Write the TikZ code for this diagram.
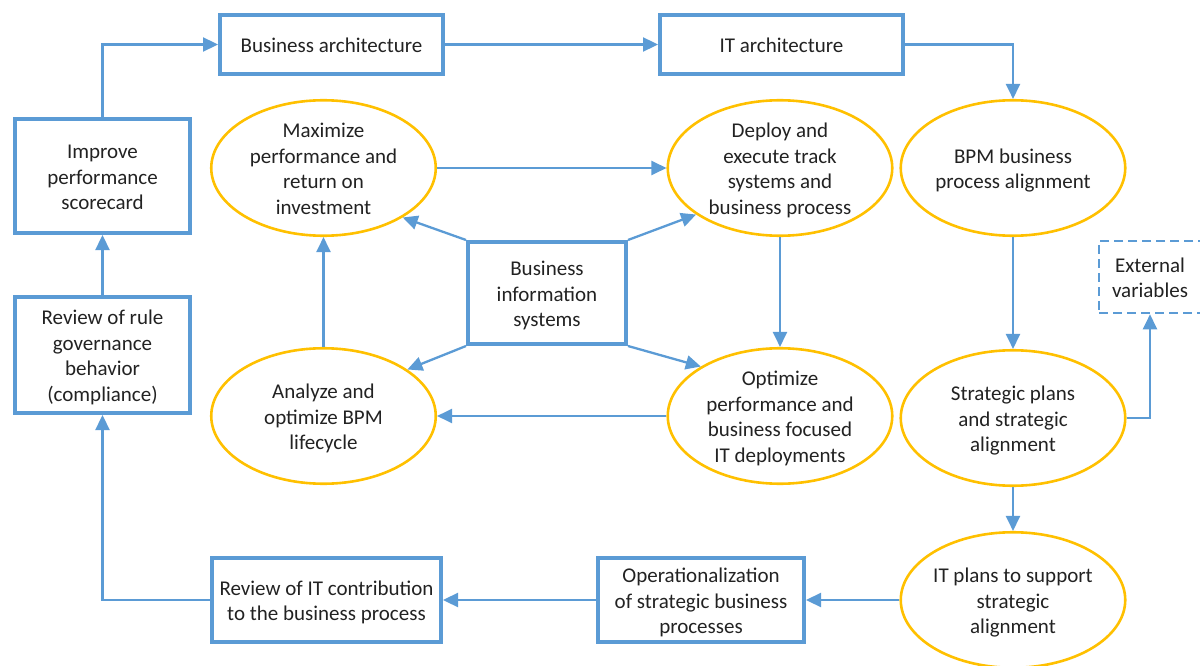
\documentclass[tikz,border=0pt]{standalone}
\usepackage{fontspec}
\setmainfont{Carlito}
\usetikzlibrary{arrows.meta,shapes.geometric}
\definecolor{lblue}{HTML}{5B9BD5}
\definecolor{gold}{HTML}{FFC000}
\definecolor{txt}{HTML}{222222}
\newcommand{\mlines}[1]{\raisebox{0pt}[\dimexpr\height+6pt\relax][\depth]{\begin{tabular}{@{}c@{}}#1\end{tabular}}}
\tikzset{
  boxnode/.style={draw=lblue, line width=4pt, rectangle, inner sep=0pt, text=txt,
    font=\fontsize{21}{25.4}\selectfont},
  ellnode/.style={draw=gold, line width=2.6pt, ellipse, inner sep=-14pt, text=txt,
    minimum width=224.5pt, minimum height=135.5pt, font=\fontsize{21}{25.4}\selectfont},
  conn/.style={draw=lblue, line width=2.3pt, -{Triangle[length=15pt,width=14pt]}}
}
\begin{document}
\begin{tikzpicture}[x=1pt,y=-1pt]
\useasboundingbox (0,0) rectangle (1200,666);
% boxes
\node[boxnode, minimum width=223pt, minimum height=59pt] (ba) at (331.5,44.5) {\mlines{Business architecture}};
\node[boxnode, minimum width=243pt, minimum height=59pt] (it) at (781.5,44.5) {\mlines{IT architecture}};
\node[boxnode, minimum width=175pt, minimum height=114pt] (imp) at (102.5,176) {\mlines{Improve\\performance\\scorecard}};
\node[boxnode, minimum width=175pt, minimum height=116pt] (rev) at (102.5,355) {\mlines{Review of rule\\governance\\behavior\\(compliance)}};
\node[boxnode, minimum width=229pt, minimum height=84pt] (revit) at (326.5,600) {\mlines{Review of IT contribution\\to the business process}};
\node[boxnode, minimum width=206pt, minimum height=84pt] (oper) at (701,600) {\mlines{Operationalization\\of strategic business\\processes}};
\node[boxnode, minimum width=158pt, minimum height=102pt] (bis) at (547,293) {\mlines{Business\\information\\systems}};
\node[boxnode, line width=2.6pt, dashed, dash pattern=on 9pt off 5pt, minimum width=102pt, minimum height=72pt] (ext) at (1150,277) {\mlines{External\\variables}};
% ellipses
\node[ellnode] (max) at (323.5,168) {\mlines{Maximize\\performance and\\return on\\investment}};
\node[ellnode] (dep) at (780,168) {\mlines{Deploy and\\execute track\\systems and\\business process}};
\node[ellnode] (bpm) at (1013,168) {\mlines{BPM business\\process alignment}};
\node[ellnode] (ana) at (323.5,416) {\mlines{Analyze and\\optimize BPM\\lifecycle}};
\node[ellnode] (opt) at (780,416) {\mlines{Optimize\\performance and\\business focused\\IT deployments}};
\node[ellnode] (str) at (1013,418) {\mlines{Strategic plans\\and strategic\\alignment}};
\node[ellnode] (itp) at (1013,600) {\mlines{IT plans to support\\strategic\\alignment}};
% connectors
\draw[conn] (imp.north) |- (ba.west);
\draw[conn] (ba.east) -- (it.west);
\draw[conn] (it.east) -| (bpm.north);
\draw[conn] (bpm) -- (str);
\draw[conn] (str.east) -| (ext.south);
\draw[conn] (str) -- (itp);
\draw[conn] (itp.west) -- (oper.east);
\draw[conn] (oper.west) -- (revit.east);
\draw[conn] (revit.west) -| (rev.south);
\draw[conn] (rev) -- (imp);
\draw[conn] (max.east) -- (dep.west);
\draw[conn] (dep) -- (opt);
\draw[conn] (opt.west) -- (ana.east);
\draw[conn] (ana) -- (max);
\draw[conn] (bis.north west) -- (max.-32);
\draw[conn] (bis.north east) -- (dep.-151);
\draw[conn] (bis.south west) -- (ana.29);
\draw[conn] (bis.south east) -- (opt.148);
\end{tikzpicture}
\end{document}
